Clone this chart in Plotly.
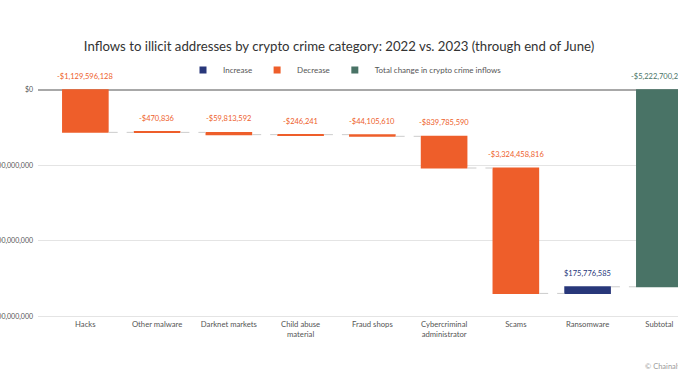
import plotly.graph_objects as go

categories = ["Hacks", "Other malware", "Darknet markets", "Child abuse<br>material",
              "Fraud shops", "Cybercriminal<br>administrator", "Scams", "Ransomware", "Subtotal"]
changes = [-1129596128, -470836, -59813592, -246241, -44105610, -839785590,
           -3324458816, 175776585, None]
measures = ["relative"] * 8 + ["total"]
y_tickvals = [0, -2e9, -4e9, -6e9]
y_ticktext = ["$0", "-$2,000,000,000", "-$4,000,000,000", "-$6,000,000,000"]

C_INC = "#28377a"
C_DEC = "#ee5e2a"
C_TOT = "#497366"
FONT = "Lato"

total = sum(v for v in changes if v is not None)
wf_y = [v if v is not None else 0 for v in changes]

W, H = 678, 381
L, T, B, R = 38, 89, 63, 0
PH = H - T - B

fig = go.Figure()
fig.add_trace(go.Waterfall(
    x=categories, y=wf_y, measure=measures, width=0.65,
    increasing=dict(marker=dict(color=C_INC)),
    decreasing=dict(marker=dict(color=C_DEC)),
    totals=dict(marker=dict(color=C_TOT)),
    connector=dict(line=dict(color="#cccccc", width=1, dash="dash")),
    showlegend=False, hoverinfo="skip",
))

for name, col in [("Increase", C_INC), ("Decrease", C_DEC), ("Total change in crypto crime inflows", C_TOT)]:
    fig.add_trace(go.Scatter(x=[None], y=[None], mode="markers", name=name,
                             marker=dict(symbol="square", size=7, color=col)))

def fmt(v):
    return ("-$" if v < 0 else "$") + f"{abs(v):,}"

cum = 0
for cat, v in zip(categories, changes):
    if v is None:
        top = 0
        val = total
        col = C_TOT
    else:
        top = max(cum, cum + v)
        val = v
        col = C_DEC if v < 0 else C_INC
        cum += v
    fig.add_annotation(x=cat, y=top, text=fmt(val), showarrow=False, yanchor="bottom",
                       yshift=7, font=dict(size=7.5, color=col, family=FONT))

fig.add_annotation(text="© Chainalysis", xref="paper", yref="paper", x=(643 - L) / 640,
                   y=(H - B - 366) / PH, xanchor="left", yanchor="middle", showarrow=False,
                   font=dict(size=7.5, color="#9a9a9a", family=FONT))

fig.update_layout(
    width=W, height=H,
    margin=dict(l=L, r=R, t=T, b=B, autoexpand=False),
    paper_bgcolor="white", plot_bgcolor="white",
    font=dict(family=FONT, color="#444444"),
    title=dict(text="Inflows to illicit addresses by crypto crime category: 2022 vs. 2023 (through end of June)",
               x=339 / W, xanchor="center", xref="container", y=1 - 46 / H, yanchor="middle",
               font=dict(size=13.2, color="#333333", family=FONT)),
    legend=dict(orientation="h", x=(345 - L) / 640, xanchor="center", y=1 + 19 / PH, yanchor="middle",
                font=dict(size=8, color="#555555", family=FONT), itemwidth=30),
    xaxis=dict(range=[-0.66, 8.26], showgrid=False, zeroline=False, showline=False, automargin=False,
               tickfont=dict(size=7.7, color="#555555", family=FONT), ticks=""),
    yaxis=dict(range=[-6.05e9, 0.02e9], tickvals=y_tickvals, ticktext=y_ticktext, automargin=False,
               showgrid=True, gridcolor="#e4e4e4", gridwidth=1,
               zeroline=True, zerolinecolor="#a8a8a8", zerolinewidth=1.5,
               tickfont=dict(size=7, color="#555555", family=FONT), ticks="", ticklabelstandoff=4),
)

fig.write_html("out.html", config={"displayModeBar": False},
               post_script="document.body.style.margin='0';")
